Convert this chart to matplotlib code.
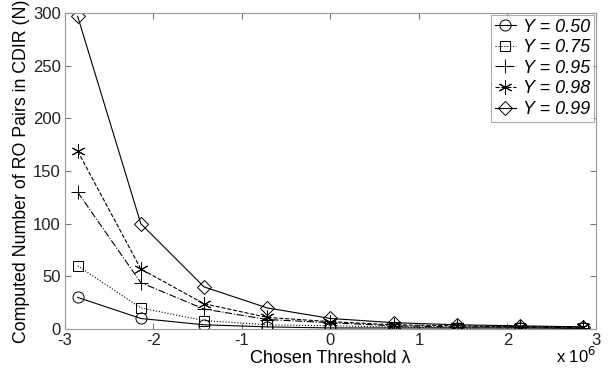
import numpy as np
import matplotlib
matplotlib.use('Agg')
import matplotlib.pyplot as plt

plt.rcParams['font.family'] = ['Liberation Sans', 'DejaVu Sans']
plt.rcParams['axes.unicode_minus'] = False

# threshold values (x 10^6)
thresh = [-2.857, -2.143, -1.429, -0.714, 0.0, 0.714, 1.429, 2.143, 2.857]

n_050 = [30, 10, 4, 2, 1, 1, 1, 1, 0.5]
n_075 = [60, 20, 8, 4, 3, 2, 1, 1, 1]
n_095 = [130, 44, 19, 9, 6, 3, 2, 2, 1]
n_098 = [169, 57, 24, 11, 7, 4, 3, 2, 2]
n_099 = [297, 100, 40, 20, 10, 6, 4, 3, 2]

labels = ['Y = 0.50', 'Y = 0.75', 'Y = 0.95', 'Y = 0.98', 'Y = 0.99']

fig = plt.figure(figsize=(6.16, 3.72), dpi=100)
ax = fig.add_axes([0.1055, 0.1156, 0.862, 0.849])

ax.plot(thresh, n_050, '-', color='k', lw=0.8, marker='o', ms=8, mfc='none', mec='k', mew=0.7, label=labels[0])
ax.plot(thresh, n_075, ':', color='k', lw=0.8, marker='s', ms=7, mfc='none', mec='k', mew=0.7, label=labels[1])
ax.plot(thresh, n_095, '-.', color='k', lw=0.8, marker='+', ms=10, mec='k', mew=0.7, label=labels[2])
ax.plot(thresh, n_098, '--', color='k', lw=0.8, marker=(6, 2, 0), ms=10, mec='k', mew=0.7, label=labels[3])
ax.plot(thresh, n_099, '-', color='k', lw=0.8, marker='D', ms=7, mfc='none', mec='k', mew=0.7, label=labels[4])

ax.set_xlim(-3, 3)
ax.set_ylim(0, 300)
ax.set_xticks([-3, -2, -1, 0, 1, 2, 3])
ax.set_yticks([0, 50, 100, 150, 200, 250, 300])
ax.tick_params(direction='in', labelsize=12, colors='#777777', length=4, top=True, right=True, pad=3)
ax.tick_params(labelcolor='#222222')
for s in ax.spines.values():
    s.set_color('#999999')

ax.set_xlabel('Chosen Threshold λ', fontsize=13, labelpad=1)
ax.set_ylabel('Computed Number of RO Pairs in CDIR (N)', fontsize=12.8, labelpad=2)
fig.text(0.935, 0.015, 'x 10$^6$', ha='center', va='bottom', fontsize=12)

leg = ax.legend(loc='upper right', prop={'style': 'italic', 'size': 13},
                frameon=True, fancybox=False, borderaxespad=0.1, handlelength=1.2,
                handletextpad=0.4, labelspacing=0.2, borderpad=0.2)
leg.get_frame().set_edgecolor('#999999')
leg.get_frame().set_linewidth(0.8)

fig.savefig('out.png', dpi=100)
